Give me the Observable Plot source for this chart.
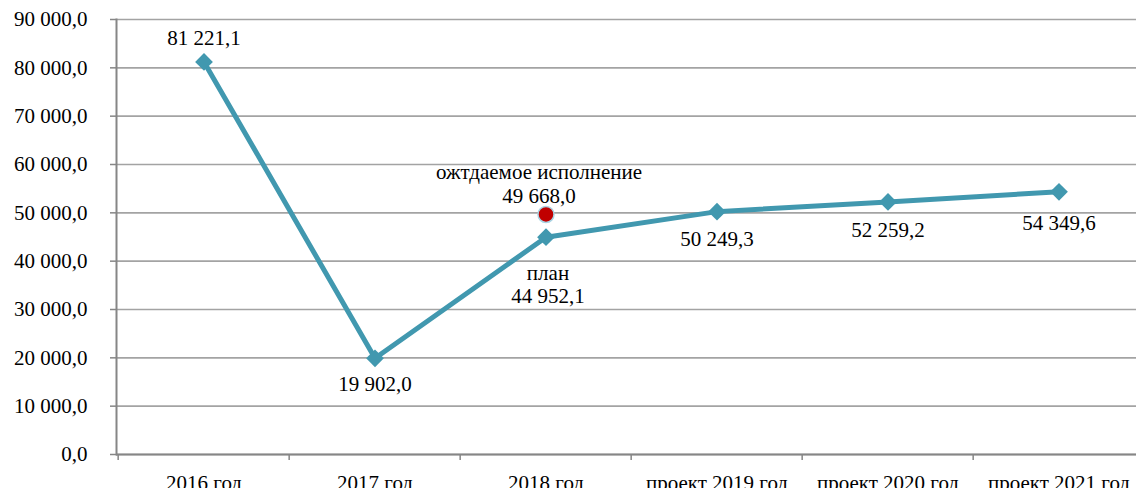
<!DOCTYPE html>
<html><head><meta charset="utf-8">
<script src="https://cdn.jsdelivr.net/npm/d3@7"></script>
<script src="https://cdn.jsdelivr.net/npm/@observablehq/plot@0.6"></script>
<style>
html,body{margin:0;padding:0;background:#fff;overflow:hidden}
#chart svg, #chart svg text, #chart svg tspan{font-family:"Liberation Serif","Times New Roman",serif !important}
</style>
</head><body><div id="chart"></div>
<script>
const categories = ["2016 год", "2017 год", "2018 год", "проект 2019 год", "проект 2020 год", "проект 2021 год"];
const values = [81221.1, 19902.0, 44952.1, 50249.3, 52259.2, 54349.6];
const expectedCategory = "2018 год";
const expectedValue = 49668.0;
const expectedLabel = "ожтдаемое исполнение";
const planLabel = "план";
const yTicks = [0, 10000, 20000, 30000, 40000, 50000, 60000, 70000, 80000, 90000];

const ru = d3.formatLocale({decimal: ",", thousands: "\u00a0", grouping: [3]});
const fmt = ru.format(",.1f");

const data = categories.map((c, i) => ({c, v: values[i], i}));
const expected = [{c: expectedCategory, v: expectedValue}];

const teal = "#4198af";
const font = "Liberation Serif";
const fs = 21;
const x0 = 116, x1 = 1146;
const bw = (x1 - x0) / categories.length;

const chart = Plot.plot({
  width: 1136,
  height: 488,
  marginLeft: 116,
  marginRight: 0,
  marginTop: 19,
  marginBottom: 34,
  style: {fontFamily: font, fontSize: "21px", background: "#fff", color: "#000", overflow: "visible"},
  x: {type: "band", domain: categories, range: [x0, x1], padding: 0},
  y: {domain: [0, 90000], label: null},
  marks: [
    Plot.ruleY(yTicks, {stroke: "#a3a3a3", strokeWidth: 1.6}),
    Plot.frame({anchor: "left", stroke: "#868686", strokeWidth: 2}),
    Plot.ruleY([0], {stroke: "#868686", strokeWidth: 2}),
    Plot.axisY(yTicks, {tickSize: 6, tickPadding: 23, tickFormat: fmt, fontSize: fs, fontFamily: font, stroke: "#868686", strokeWidth: 1.5, fill: "#000", label: null}),
    Plot.axisX({tickSize: 6, tickFormat: () => "", dx: -bw / 2, stroke: "#868686", strokeWidth: 1.5, label: null}),
    Plot.axisX({tickSize: 0, tickPadding: 21, fontSize: fs, fontFamily: font, fill: "#000", label: null}),
    Plot.line(data, {x: "c", y: "v", stroke: teal, strokeWidth: 5}),
    Plot.dot(data, {x: "c", y: "v", symbol: "diamond2", r: 8, fill: teal}),
    Plot.dot(expected, {x: "c", y: "v", r: 8, fill: "#c00000", stroke: "#a9d3e3", strokeWidth: 1.5}),
    Plot.text(data, {filter: d => d.i === 0, x: "c", y: "v", text: d => fmt(d.v), dy: -24, fontSize: fs, fontFamily: font, fill: "#000"}),
    Plot.text(data, {filter: d => d.i === 1, x: "c", y: "v", text: d => fmt(d.v), dy: 26, fontSize: fs, fontFamily: font, fill: "#000"}),
    Plot.text(data, {filter: d => d.c === expectedCategory, x: "c", y: "v", text: d => planLabel + "\n" + fmt(d.v), dy: 47, dx: 2, lineHeight: 1.08, fontSize: fs, fontFamily: font, fill: "#000"}),
    Plot.text(data, {filter: d => d.i >= 3 && d.i < 5, x: "c", y: "v", text: d => fmt(d.v), dy: 28, fontSize: fs, fontFamily: font, fill: "#000"}),
    Plot.text(data, {filter: d => d.i === 5, x: "c", y: "v", text: d => fmt(d.v), dy: 31, fontSize: fs, fontFamily: font, fill: "#000"}),
    Plot.text(expected, {x: "c", y: "v", text: d => expectedLabel + "\n" + fmt(d.v), dy: -31, dx: -7, lineHeight: 1.14, fontSize: fs, fontFamily: font, fill: "#000"})
  ]
});
document.getElementById("chart").appendChild(chart);
</script>
</body></html>
